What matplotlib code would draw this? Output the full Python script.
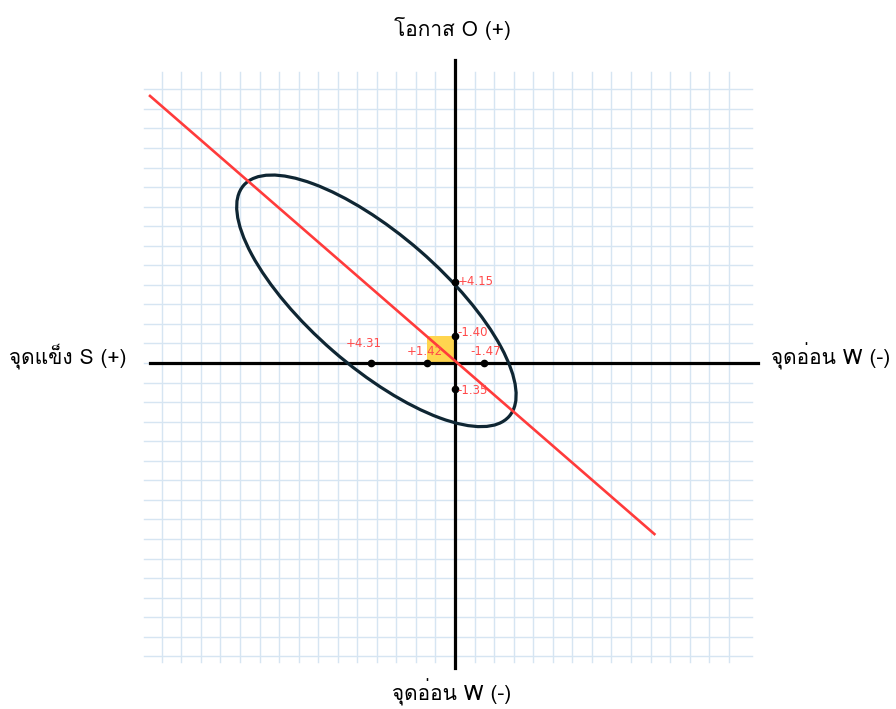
import numpy as np
import matplotlib
matplotlib.use('Agg')
import matplotlib.pyplot as plt
from matplotlib.patches import Ellipse, Rectangle
from matplotlib import font_manager
from matplotlib.ft2font import FT2Font

# หาฟอนต์ที่มีอักษรไทย (ถ้ามี)
thai_font = None
for f in font_manager.fontManager.ttflist:
    try:
        if 0x0E08 in FT2Font(f.fname).get_charmap():
            thai_font = f.name
            break
    except Exception:
        pass
families = ([thai_font] if thai_font else []) + ['DejaVu Sans']
plt.rcParams['font.family'] = families

# ข้อมูล
sw_vals = [4.31, 1.42, -1.47]          # แกนนอน: S(+) ซ้าย, W(-) ขวา
sw_labels = ['+4.31', '+1.42', '-1.47']
ot_vals = [4.15, 1.40, -1.35]          # แกนตั้ง
ot_labels = ['+4.15', '-1.40', '-1.35']
box_x = 1.42
box_y = 1.40
line_x = [15.6, -10.2]
line_y = [13.66, -8.75]
ell_center = (4.02, 3.18)
ell_width = 18.0
ell_height = 6.78
ell_angle = 41

unit = 19.55  # px ต่อหน่วย
fig = plt.figure(figsize=(8.96, 7.09), dpi=100)
ax = fig.add_axes([0, 0, 1, 1])
ax.set_xlim(455 / unit, (455 - 896) / unit)
ax.set_ylim((363 - 709) / unit, 363 / unit)
ax.axis('off')

# ตาราง
grid_c = '#d6e5f2'
for k in range(-14, 16):
    ax.plot([k, k], [-15.3, 14.9], color=grid_c, lw=1.0, zorder=0)
for k in range(-15, 15):
    ax.plot([15.9, -15.2], [k, k], color=grid_c, lw=1.0, zorder=0)

# แกนหลัก
ax.plot([15.6, -15.5], [0, 0], color='black', lw=2.3, zorder=2)
ax.plot([0, 0], [15.5, -15.6], color='black', lw=2.3, zorder=2)

ax.add_patch(Rectangle((0, 0), box_x, box_y, facecolor='#ffd54f', edgecolor='none', zorder=1))

ax.add_patch(Ellipse(ell_center, ell_width, ell_height, angle=ell_angle,
                     facecolor='none', edgecolor='#0f2633', lw=2.3, zorder=3))

ax.plot(line_x, line_y, color='#ff3b3b', lw=1.9, zorder=4)

red = '#ff4a4a'
sw_off = [(-5, 14), (-2, 8), (1.5, 8)]
for v, lab, off in zip(sw_vals, sw_labels, sw_off):
    ax.plot(v, 0, 'o', color='black', ms=4.5, zorder=5)
    ax.annotate(lab, (v, 0), xytext=off, textcoords='offset points',
                ha='center', va='center', color=red, fontsize=8.5,
                family='DejaVu Sans', zorder=6)
ot_off = [(2, 0), (2, 2), (2, -1)]
for v, lab, off in zip(ot_vals, ot_labels, ot_off):
    ax.plot(0, v, 'o', color='black', ms=4.5, zorder=5)
    ax.annotate(lab, (0, v), xytext=off, textcoords='offset points',
                ha='left', va='center', color=red, fontsize=8.5,
                family='DejaVu Sans', zorder=6)

# ชื่อแกน
fs = 15
fig.text(68 / 896, 1 - 356 / 709, 'จุดแข็ง S (+)', ha='center', va='center', fontsize=fs)
fig.text(831 / 896, 1 - 356 / 709, 'จุดอ่อน W (-)', ha='center', va='center', fontsize=fs)
fig.text(452 / 896, 1 - 28 / 709, 'โอกาส O (+)', ha='center', va='center', fontsize=fs)
fig.text(452 / 896, 1 - 692 / 709, 'จุดอ่อน W (-)', ha='center', va='center', fontsize=fs)

fig.savefig('out.png', dpi=100)
